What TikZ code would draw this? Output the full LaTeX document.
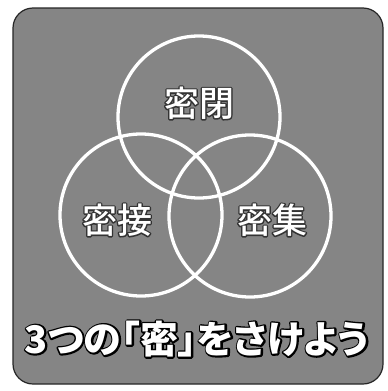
\documentclass[tikz,border=0pt]{standalone}
\usepackage{fontspec}
\IfFontExistsTF{Noto Sans CJK JP Medium}
  {\newfontfamily\cjk[RawFeature=+palt]{Noto Sans CJK JP Medium}}
  {\newfontfamily\cjk[RawFeature=+palt]{Noto Sans CJK JP}}
\IfFontExistsTF{Noto Sans CJK JP Black}
  {\newfontfamily\cjkb[RawFeature=+palt]{Noto Sans CJK JP Black}}
  {\newfontfamily\cjkb[RawFeature=+palt]{Noto Sans CJK JP Bold}}
\definecolor{bggray}{gray}{0.52}
% #1 outline grey level, #2 outline width, #3 text
\newcommand{\halo}[3]{\rlap{\special{pdf:literal #1 G #2 w 1 j 1 Tr}#3\special{pdf:literal 0 Tr}}#3}
\tikzset{
  ring/.style={draw=white, line width=3.3pt, circle, minimum size=162pt, inner sep=0pt},
  lbl/.style={text=white, font=\cjk\fontsize{35}{35}\selectfont, inner sep=0pt},
  slogan/.style={text=white, font=\cjkb\fontsize{38}{38}\selectfont, inner sep=0pt}
}
\begin{document}
\begin{tikzpicture}[x=1pt,y=-1pt]
\useasboundingbox (0,0) rectangle (388,391);
\fill[white] (0,0) rectangle (388,391);
\draw[fill=bggray, draw=black!85, line width=1.2pt, rounded corners=20pt] (13,8) rectangle (383,384);
\node[ring] (top) at (199,117) {};
\node[ring] (left) at (141,215) {};
\node[ring] (right) at (250,216) {};
\node[lbl] (l1) at (199,103) {\halo{0.2}{2.6}{密閉}};
\node[lbl] (l2) at (117,220) {\halo{0.2}{2.6}{密接}};
\node[lbl] (l3) at (272,220) {\halo{0.2}{2.6}{密集}};
\node[slogan] (s) at (197,339) {\halo{0}{3.4}{3つの「密」をさけよう}};
\end{tikzpicture}
\end{document}
